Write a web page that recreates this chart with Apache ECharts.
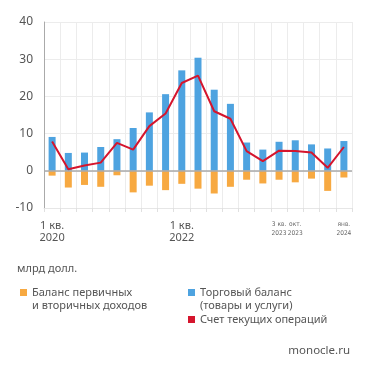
<!DOCTYPE html>
<html><head><meta charset="utf-8">
<script src="https://cdn.jsdelivr.net/npm/echarts@6/dist/echarts.min.js"></script>
<style>html,body{margin:0;padding:0;background:#fff}#c{width:371px;height:369px}</style>
</head><body><div id="c"></div>
<script>
const categories = ['1 кв.\n2020','2 кв.\n2020','3 кв.\n2020','4 кв.\n2020','1 кв.\n2021','2 кв.\n2021','3 кв.\n2021','4 кв.\n2021','1 кв.\n2022','2 кв.\n2022','3 кв.\n2022','4 кв.\n2022','1 кв.\n2023','2 кв.\n2023','3 кв.\n2023','окт.\n2023','нояб.\n2023','дек.\n2023','янв.\n2024'];
const shownLabels = [0, 8, 14, 15, 18];
const smallLabels = [14, 15, 18];
const tradeBalance = [9.1, 4.8, 4.9, 6.4, 8.5, 11.5, 15.7, 20.6, 27.0, 30.4, 21.8, 18.0, 7.6, 5.7, 7.8, 8.2, 7.1, 6.0, 8.0];
const incomeBalance = [-1.3, -4.5, -3.8, -4.3, -1.2, -5.8, -4.0, -5.2, -3.5, -4.8, -6.1, -4.3, -2.4, -3.4, -2.4, -3.1, -2.1, -5.4, -1.8];
const currentAccount = [7.9, 0.4, 1.4, 2.2, 7.5, 5.7, 12.0, 15.4, 23.6, 25.6, 16.0, 14.0, 5.3, 2.6, 5.4, 5.3, 4.9, 0.8, 6.4];
const names = ['Баланс первичных\nи вторичных доходов', 'Торговый баланс\n(товары и услуги)', 'Счет текущих операций'];

const FONT = 'Noto Sans';
const chart = echarts.init(document.getElementById('c'));
const legendText = {color: '#555', fontSize: 11, fontFamily: FONT, lineHeight: 13};
// leading blank line keeps the icon level with the first text line
const twoLine = n => ' \n' + n;
chart.setOption({
  animation: false,
  textStyle: {fontFamily: FONT},
  grid: {left: 44, right: 19, top: 22, bottom: 161},
  xAxis: {
    type: 'category', data: categories, boundaryGap: true,
    axisLine: {onZero: false, lineStyle: {color: '#e6e6e6'}},
    axisTick: {show: true, interval: 0, length: 4, lineStyle: {color: '#e0e0e0'}},
    splitLine: {show: true, interval: 0, lineStyle: {color: '#ececec'}},
    axisLabel: {
      interval: 0, margin: 12, color: '#555', fontSize: 11, lineHeight: 12, fontFamily: FONT,
      formatter: (v, i) => {
        if (!shownLabels.includes(i)) return '';
        if (smallLabels.includes(i)) return v.split('\n').map(l => '{s|' + l + '}').join('\n');
        return v;
      },
      rich: {s: {fontSize: 6.5, lineHeight: 9, color: '#666', fontFamily: '"DejaVu Sans Condensed", Roboto'}}
    }
  },
  yAxis: {
    type: 'value', min: -10, max: 40, interval: 10,
    axisLine: {show: true, lineStyle: {color: '#aaa'}},
    axisTick: {show: false},
    splitLine: {lineStyle: {color: '#ececec'}},
    axisLabel: {color: '#555', fontSize: 12, margin: 11, fontFamily: FONT}
  },
  legend: [
    {left: 15, top: 268, itemWidth: 7, itemHeight: 7, icon: 'rect', itemGap: 0, data: [names[0]], formatter: twoLine, textStyle: legendText, selectedMode: false},
    {left: 183, top: 268, itemWidth: 7, itemHeight: 7, icon: 'rect', itemGap: 0, data: [names[1]], formatter: twoLine, textStyle: legendText, selectedMode: false},
    {left: 183, top: 308, itemWidth: 7, itemHeight: 7, icon: 'rect', itemGap: 0, data: [names[2]], textStyle: legendText, selectedMode: false}
  ],
  title: [
    {text: 'млрд долл.', left: 12, top: 258, textStyle: {color: '#555', fontSize: 11, fontWeight: 'normal', fontFamily: FONT}},
    {text: 'monocle.ru', right: 16, top: 340, textStyle: {color: '#555', fontSize: 11.5, fontWeight: 'normal', fontFamily: FONT}}
  ],
  series: [
    {name: names[1], type: 'bar', data: tradeBalance, barWidth: 7, barGap: '-100%', itemStyle: {color: '#4ea3e0'},
     markLine: {silent: true, symbol: 'none', label: {show: false}, lineStyle: {color: '#aaa', type: 'solid', width: 1.5}, data: [{yAxis: 0}]}},
    {name: names[0], type: 'bar', data: incomeBalance, barWidth: 7, barGap: '-100%', itemStyle: {color: '#f7a941'}},
    {name: names[2], type: 'line', data: currentAccount, symbol: 'none', lineStyle: {color: '#d5152d', width: 2}, itemStyle: {color: '#d5152d'}, z: 5}
  ]
});
</script></body></html>
